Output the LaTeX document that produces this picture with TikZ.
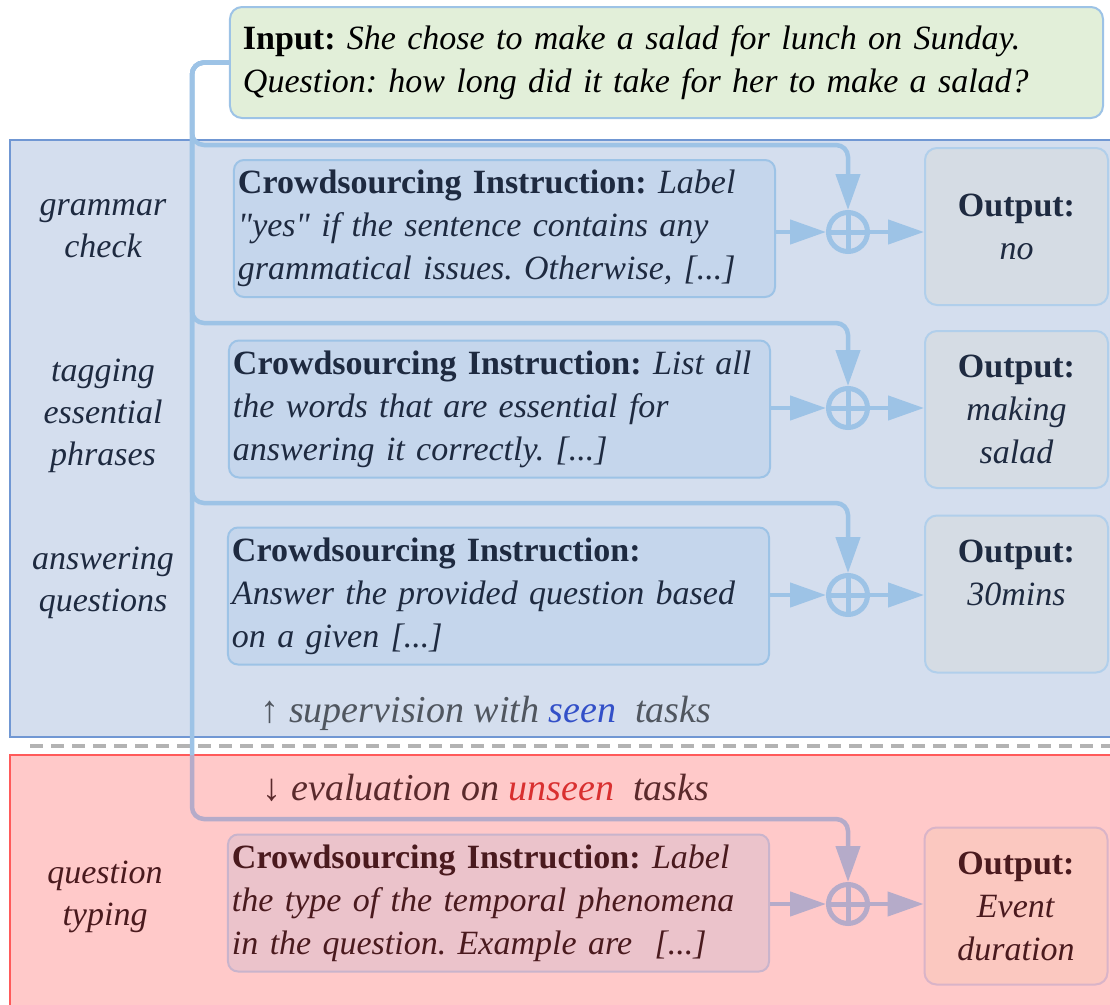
\documentclass[tikz,border=0pt]{standalone}
\usepackage{fontspec}
\setmainfont{Liberation Serif}[Ligatures=TeXOff]
\usetikzlibrary{arrows.meta}
\frenchspacing

\definecolor{seenbg}{HTML}{D4DEEE}
\definecolor{seenedge}{HTML}{7097D3}
\definecolor{unseenbg}{HTML}{FFC9C9}
\definecolor{unseenedge}{HTML}{FF5A5A}
\definecolor{flowblue}{HTML}{9DC3E6}
\definecolor{flowmauve}{HTML}{B5ABC9}
\definecolor{instfill}{HTML}{C5D6EC}
\definecolor{outfill}{HTML}{D5DCE4}
\definecolor{inputfill}{HTML}{E2EFD9}
\definecolor{navytext}{HTML}{1E2A40}
\definecolor{maroontext}{HTML}{4A1A1E}
\definecolor{redinstfill}{HTML}{EBC3CB}
\definecolor{redinstedge}{HTML}{C9B4CC}
\definecolor{redoutfill}{HTML}{FBC8C0}
\definecolor{redoutedge}{HTML}{D9B4C8}
\definecolor{seenword}{HTML}{3350C8}
\definecolor{unseenword}{HTML}{D93030}
\definecolor{notegray}{HTML}{50565F}
\definecolor{notemaroon}{HTML}{5A2A2C}
\definecolor{sepgray}{HTML}{B3B3B3}

\begin{document}
\begin{tikzpicture}[x=1bp,y=-1bp,
  every node/.style={font=\fontsize{34bp}{43bp}\selectfont},
  conn/.style={line width=4.5bp, rounded corners=12bp},
  tip/.style={-{Triangle[length=36bp,width=24bp]}},
  instbox/.style={draw=flowblue, fill=instfill, line width=2bp, rounded corners=10bp,
    text=navytext, align=left, inner xsep=4bp, inner ysep=0bp,
    text width=533bp, minimum height=137bp},
  outbox/.style={draw=flowblue!80!white, fill=outfill, line width=2bp, rounded corners=12bp,
    text=navytext, align=center, inner xsep=5bp, inner ysep=0bp,
    text width=173bp, minimum height=157bp},
  addnode/.style={circle, draw=flowblue, line width=5bp, minimum size=39bp, inner sep=0bp},
  tasklabel/.style={text=navytext, align=center, font=\fontsize{34bp}{42bp}\selectfont\itshape},
  splitnote/.style={font=\fontsize{38bp}{43bp}\selectfont\itshape},
]
\useasboundingbox (0,0) rectangle (1110,1005);
\clip (0,0) rectangle (1110,1005);

% seen / unseen task regions
\fill[seenbg] (10,140) rectangle (1130,737);
\draw[seenedge, line width=2bp] (1130,140) -- (10,140) -- (10,737) -- (1130,737);
\fill[unseenbg] (10,755) rectangle (1130,1020);
\draw[unseenedge, line width=2bp] (1130,755) -- (10,755) -- (10,1020);
\draw[sepgray, line width=4.5bp, dash pattern=on 13bp off 8bp] (30,746) -- (1110,746);

% input box
\node[draw=flowblue, fill=inputfill, line width=2bp, rounded corners=12bp, align=left,
  inner xsep=13bp, inner ysep=0bp, text width=847bp, minimum height=111bp]
  (in) at (666.5,62.5)
  {\textbf{Input:} \textit{She chose to make a salad for lunch on Sunday.}\\
   \textit{Question: how long did it take for her to make a salad?}};

% trunk and branch levels
\coordinate (trunk) at (192,0);
\coordinate (b1) at (0,145);
\coordinate (b2) at (0,323);
\coordinate (b3) at (0,503);
\coordinate (b4) at (0,819);
\coordinate (sep) at (0,755);

% combination points
\node[addnode] (p1) at (848,232) {};
\node[addnode] (p2) at (848,408) {};
\node[addnode] (p3) at (848,595) {};
\node[addnode, draw=flowmauve] (p4) at (848,904) {};
\foreach \p in {p1,p2,p3}{
  \draw[flowblue, line width=5bp] (\p.north) -- (\p.south) (\p.west) -- (\p.east);
}
\draw[flowmauve, line width=5bp] (p4.north) -- (p4.south) (p4.west) -- (p4.east);

% instruction boxes
\node[instbox] (i1) at (504.5,228.5)
  {\textbf{Crowdsourcing Instruction:} \textit{Label}\\
   \textit{"yes" if the sentence contains any}\\
   \textit{grammatical issues. Otherwise, [...]}};
\node[instbox] (i2) at (499.5,409)
  {\textbf{Crowdsourcing Instruction:} \textit{List all}\\
   \textit{the words that are essential for}\\
   \textit{answering it correctly. [...]}};
\node[instbox] (i3) at (498.5,596)
  {\textbf{Crowdsourcing Instruction:}\\
   \textit{Answer the provided question based}\\
   \textit{on a given [...]}};
\node[instbox, draw=redinstedge, fill=redinstfill, text=maroontext] (i4) at (498.5,903)
  {\textbf{Crowdsourcing Instruction:} \textit{Label}\\
   \textit{the type of the temporal phenomena}\\
   \textit{in the question. Example are~~[...]}};

% output boxes
\node[outbox] (o1) at (1016.5,226.5) {\textbf{Output:}\\ \textit{no}};
\node[outbox] (o2) at (1016.5,409.5) {\textbf{Output:}\\ \textit{making}\\ \textit{salad}};
\node[outbox] (o3) at (1016.5,594) {\textbf{Output:}\\ \textit{30mins}\\ \mbox{}};
\node[outbox, draw=redoutedge, fill=redoutfill, text=maroontext] (o4) at (1016,906)
  {\textbf{Output:}\\ \textit{Event}\\ \textit{duration}};

% input fan-out to every combination point
\draw[flowblue, conn, tip] (in.west) -- (in.west -| trunk) -- (trunk |- b1) -- (p1 |- b1) -- (p1.north);
\draw[flowblue, conn, tip] (in.west) -- (in.west -| trunk) -- (trunk |- b2) -- (p2 |- b2) -- (p2.north);
\draw[flowblue, conn, tip] (in.west) -- (in.west -| trunk) -- (trunk |- b3) -- (p3 |- b3) -- (p3.north);
\draw[flowblue, conn] (in.west) -- (in.west -| trunk) -- (trunk |- sep);
\draw[flowmauve, conn, tip] (trunk |- sep) -- (trunk |- b4) -- (p4 |- b4) -- (p4.north);

% instruction -> combination -> output
\foreach \k in {1,2,3}{
  \draw[flowblue, line width=4.5bp, tip] (i\k.east |- p\k.west) -- (p\k.west);
  \draw[flowblue, line width=4.5bp, tip] (p\k.east) -- (o\k.west |- p\k.east);
}
\draw[flowmauve, line width=4.5bp, tip] (i4.east |- p4.west) -- (p4.west);
\draw[flowmauve, line width=4.5bp, tip] (p4.east) -- (o4.west |- p4.east);

% task names
\node[tasklabel] (t1) at (103,229) {grammar\\check};
\node[tasklabel] (t2) at (103,416) {tagging\\essential\\phrases};
\node[tasklabel] (t3) at (103,583) {answering\\questions};
\node[tasklabel, text=maroontext] (t4) at (105,897) {question\\typing};

% split notes
\node[splitnote, text=notegray] (sup) at (486,713)
  {\upshape↑ \itshape supervision with \textcolor{seenword}{seen}~ tasks};
\node[splitnote, text=notemaroon] (ev) at (486,788)
  {\upshape↓ \itshape evaluation on \textcolor{unseenword}{unseen}~ tasks};
\end{tikzpicture}
\end{document}
